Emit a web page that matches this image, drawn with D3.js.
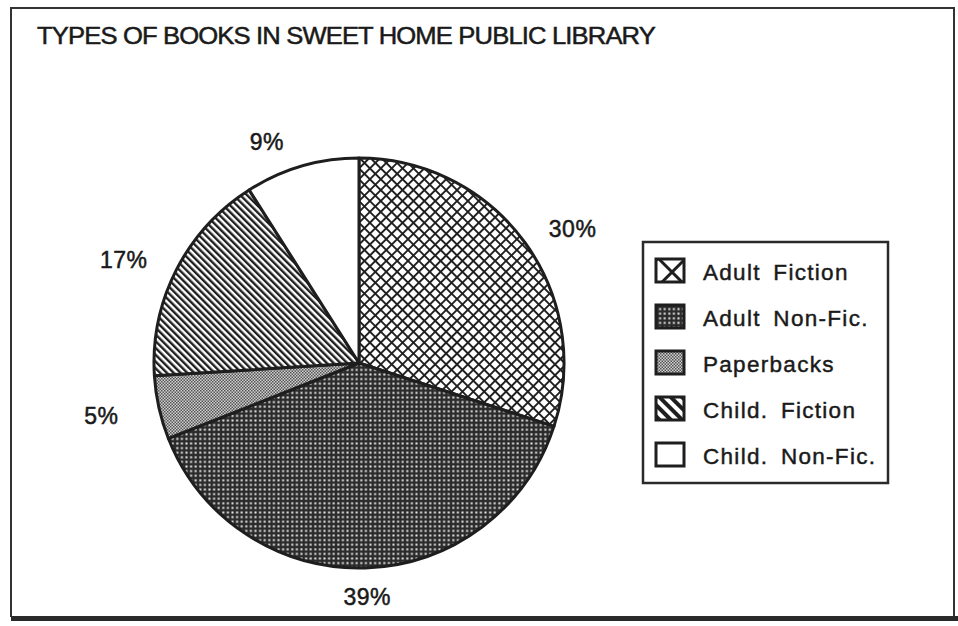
<!DOCTYPE html>
<html>
<head>
<meta charset="utf-8">
<script src="https://cdn.jsdelivr.net/npm/d3@7"></script>
<style>
  html, body { margin: 0; padding: 0; background: #fff; }
  svg { display: block; }
  text { font-family: "Liberation Sans", Arial, Helvetica, sans-serif; fill: #1a1a1a; }
</style>
</head>
<body>
<svg id="chart" width="958" height="626"></svg>
<script>
// ---- data ----
const title = "TYPES OF BOOKS IN SWEET HOME PUBLIC LIBRARY";
const categories = ["Adult Fiction", "Adult Non-Fic.", "Paperbacks", "Child. Fiction", "Child. Non-Fic."];
const values = [30, 39, 5, 17, 9];
const valueLabels = ["30%", "39%", "5%", "17%", "9%"];
const patternIds = ["pCross", "pDots", "pFine", "pDiag", "pNone"];

// ---- layout ----
const W = 958, H = 626;
const cx = 359, cy = 363, R = 205;
const svg = d3.select("#chart");
const ink = "#1e1e1e";

// ---- patterns ----
const defs = svg.append("defs");
function crossPat(id, s, w) {
  const p = defs.append("pattern").attr("id", id).attr("patternUnits", "userSpaceOnUse")
    .attr("width", s).attr("height", s).attr("patternTransform", "rotate(45)");
  p.append("rect").attr("width", s).attr("height", s).attr("fill", "#fff");
  p.append("rect").attr("width", w).attr("height", s).attr("fill", ink);
  p.append("rect").attr("width", s).attr("height", w).attr("fill", ink);
}
function dotPat(id, s, d) {
  const p = defs.append("pattern").attr("id", id).attr("patternUnits", "userSpaceOnUse")
    .attr("width", s).attr("height", s);
  p.append("rect").attr("width", s).attr("height", s).attr("fill", "#2b2b2b");
  p.append("rect").attr("x", (s - d) / 2).attr("y", (s - d) / 2).attr("width", d).attr("height", d).attr("fill", "#e6e6e6");
}
function finePat(id, s) {
  const p = defs.append("pattern").attr("id", id).attr("patternUnits", "userSpaceOnUse")
    .attr("width", s).attr("height", s);
  p.append("rect").attr("width", s).attr("height", s).attr("fill", "#cfcfcf");
  p.append("rect").attr("width", s / 2).attr("height", s / 2).attr("fill", "#555");
  p.append("rect").attr("x", s / 2).attr("y", s / 2).attr("width", s / 2).attr("height", s / 2).attr("fill", "#555");
}
function diagPat(id, s) {
  const p = defs.append("pattern").attr("id", id).attr("patternUnits", "userSpaceOnUse")
    .attr("width", s).attr("height", 10).attr("patternTransform", "rotate(-45)");
  p.append("rect").attr("width", s).attr("height", 10).attr("fill", "#fff");
  p.append("rect").attr("width", s / 2).attr("height", 10).attr("fill", ink);
}
function nonePat(id) {
  const p = defs.append("pattern").attr("id", id).attr("patternUnits", "userSpaceOnUse")
    .attr("width", 4).attr("height", 4);
  p.append("rect").attr("width", 4).attr("height", 4).attr("fill", "#fff");
}
crossPat("pCross", 7.7, 1.9); dotPat("pDots", 4.6, 2); finePat("pFine", 3); diagPat("pDiag", 4.8); nonePat("pNone");
// coarser versions for legend swatches
crossPat("L_pCross", 19.8, 3); dotPat("L_pDots", 4.6, 2); finePat("L_pFine", 3); diagPat("L_pDiag", 8); nonePat("L_pNone");

// ---- frame ----
svg.append("rect").attr("x", 0).attr("y", 0).attr("width", W).attr("height", H).attr("fill", "#fff");
svg.append("path")
  .attr("d", "M11,617 L11,8 L954,8 L954,617")
  .attr("fill", "none").attr("stroke", "#333").attr("stroke-width", 2);
svg.append("rect").attr("x", 11).attr("y", 616).attr("width", 947).attr("height", 5).attr("fill", "#2a2a2a");

// ---- title ----
svg.append("text").attr("x", 37).attr("y", 44)
  .attr("font-size", 24).attr("letter-spacing", -0.8)
  .attr("textLength", 618).attr("lengthAdjust", "spacingAndGlyphs")
  .attr("stroke", "#1a1a1a").attr("stroke-width", 0.5)
  .text(title);

// ---- pie ----
const data = categories.map((c, i) => ({ cat: c, value: values[i], label: valueLabels[i], pat: patternIds[i] }));
const pie = d3.pie().sort(null).value(d => d.value);
const arcs = pie(data);
const arc = d3.arc().innerRadius(0).outerRadius(R);
const g = svg.append("g").attr("transform", `translate(${cx},${cy})`);
g.selectAll("path.slice").data(arcs).join("path")
  .attr("class", "slice")
  .attr("d", arc)
  .attr("fill", d => `url(#${d.data.pat})`)
  .attr("stroke", ink).attr("stroke-width", 3).attr("stroke-linejoin", "round");

// labels on an ellipse around the pie
const rx = 264, ry = 232;
g.selectAll("text.lab").data(arcs).join("text")
  .attr("class", "lab")
  .attr("x", d => { const a = (d.startAngle + d.endAngle) / 2; return rx * Math.sin(a) * (Math.cos(a) > 0.9 ? 1.25 : 1); })
  .attr("y", d => { const a = (d.startAngle + d.endAngle) / 2; return -ry * Math.cos(a) + 10; })
  .attr("text-anchor", "middle")
  .attr("font-size", 23)
  .attr("letter-spacing", 0.5)
  .attr("stroke", "#1a1a1a").attr("stroke-width", 0.5)
  .text(d => d.data.label);

// ---- legend ----
const lg = svg.append("g");
lg.append("rect").attr("x", 643).attr("y", 242).attr("width", 245).attr("height", 241)
  .attr("fill", "#fff").attr("stroke", "#2a2a2a").attr("stroke-width", 2.5);
const ly = d3.scaleBand().domain(categories).range([247, 477]);
const rows = lg.selectAll("g.row").data(data).join("g").attr("class", "row")
  .attr("transform", d => `translate(0,${ly(d.cat) + ly.bandwidth() / 2})`);
rows.append("rect").attr("x", 656).attr("y", -11).attr("width", 28).attr("height", 23)
  .attr("fill", d => `url(#L_${d.pat})`).attr("stroke", ink).attr("stroke-width", 3);
rows.append("text").attr("x", 703).attr("y", 10)
  .attr("font-size", 22.5).attr("letter-spacing", 1.3).attr("word-spacing", 5)
  .attr("stroke", "#1a1a1a").attr("stroke-width", 0.45)
  .text(d => d.cat);
</script>
</body>
</html>
